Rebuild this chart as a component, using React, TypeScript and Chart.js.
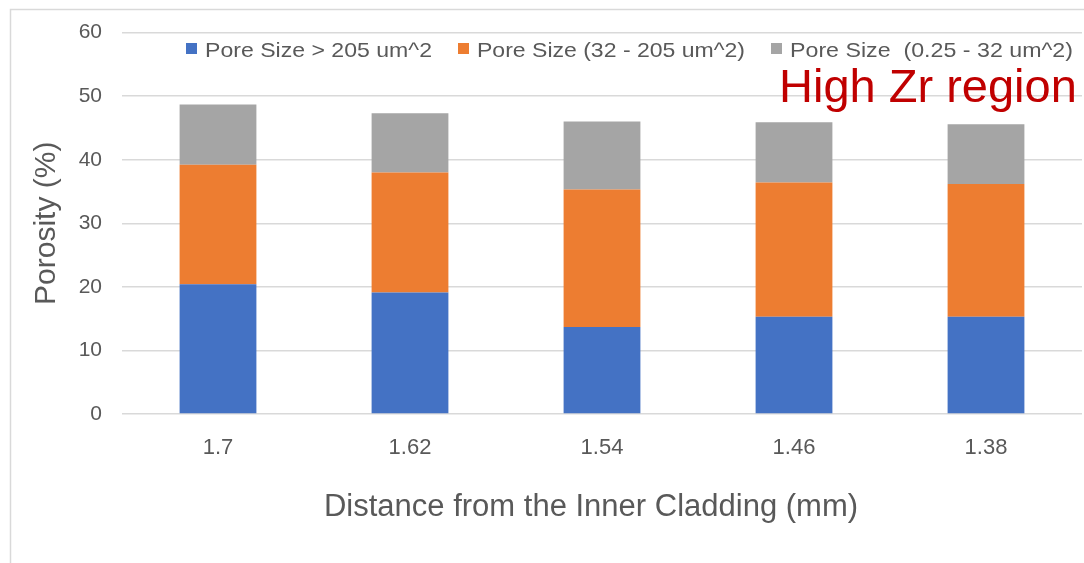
import React, { useEffect, useRef } from "react";
import { Chart, registerables } from "chart.js";

Chart.register(...registerables);

const categories = ["1.7", "1.62", "1.54", "1.46", "1.38"];
const seriesLabels = [
  "Pore Size > 205 um^2",
  "Pore Size (32 - 205 um^2)",
  "Pore Size  (0.25 - 32 um^2)",
];
const largePores = [20.4, 19.1, 13.7, 15.3, 15.3];
const mediumPores = [18.8, 18.9, 21.6, 21.1, 20.9];
const smallPores = [9.5, 9.3, 10.7, 9.5, 9.4];
const seriesColors = ["#4472C4", "#ED7D31", "#A5A5A5"];
const yTicks = [0, 10, 20, 30, 40, 50, 60];
const annotation = "High Zr region";
const xTitle = "Distance from the Inner Cladding (mm)";
const yTitle = "Porosity (%)";

const FONT = "'Liberation Sans', Arial, sans-serif";
const TEXT = "#595959";
const GRID = "#D9D9D9";
const legendX = [186, 458, 771];

const decorPlugin = {
  id: "decor",
  beforeDraw(chart: any) {
    const ctx = chart.ctx;
    ctx.save();
    ctx.strokeStyle = GRID;
    ctx.lineWidth = 1.5;
    ctx.strokeRect(10.5, 9.5, 1200, 700);
    ctx.restore();
  },
  afterDraw(chart: any) {
    const ctx = chart.ctx;
    ctx.save();
    ctx.font = `21px ${FONT}`;
    ctx.textBaseline = "alphabetic";
    chart.data.datasets.forEach((ds: any, i: number) => {
      const x = legendX[i];
      ctx.fillStyle = ds.backgroundColor;
      ctx.fillRect(x, 43, 11, 11);
      ctx.fillStyle = TEXT;
      const w = ctx.measureText(ds.label).width;
      const target = i === 2 ? 1073 - (x + 19) : legendX[i + 1] - 26 - (x + 19);
      ctx.save();
      ctx.translate(x + 19, 57);
      ctx.scale(target / w, 1);
      ctx.fillText(ds.label, 0, 0);
      ctx.restore();
    });
    // x-axis title
    ctx.font = `31px ${FONT}`;
    ctx.fillStyle = TEXT;
    ctx.textAlign = "center";
    ctx.textBaseline = "middle";
    ctx.fillText(xTitle, 591, 507);
    // annotation
    ctx.textAlign = "left";
    ctx.textBaseline = "alphabetic";
    ctx.font = `47px ${FONT}`;
    ctx.fillStyle = "#C00000";
    ctx.fillText(annotation, 779, 102);
    ctx.restore();
  },
};

export default function App() {
  const ref = useRef<HTMLCanvasElement>(null);
  useEffect(() => {
    document.body.style.margin = "0";
    const chart = new Chart(ref.current!, {
      type: "bar",
      data: {
        labels: categories,
        datasets: [largePores, mediumPores, smallPores].map((d, i) => ({
          label: seriesLabels[i],
          data: d,
          backgroundColor: seriesColors[i],
          barPercentage: 0.4,
          categoryPercentage: 1.0,
        })),
      },
      options: {
        responsive: false,
        animation: false,
        devicePixelRatio: 1,
        layout: { padding: { top: 30, right: 2, left: 0, bottom: 0 } },
        plugins: { legend: { display: false }, tooltip: { enabled: false } },
        scales: {
          x: {
            stacked: true,
            grid: { display: false },
            border: { display: false },
            ticks: { color: TEXT, font: { family: FONT, size: 22 }, padding: 13 },
            title: { display: false, text: xTitle },
            afterFit: (s: any) => {
              s.height = 149;
            },
          },
          y: {
            stacked: true,
            min: 0,
            max: 60,
            afterBuildTicks: (s: any) => {
              s.ticks = yTicks.map((v) => ({ value: v }));
            },
            grid: { color: GRID, lineWidth: 1.5, drawTicks: false },
            border: { display: false },
            ticks: { color: TEXT, font: { family: FONT, size: 21 }, padding: 20 },
            title: {
              display: true,
              text: yTitle,
              color: TEXT,
              font: { family: FONT, size: 30 },
              padding: { top: 29, bottom: 0 },
            },
            afterFit: (s: any) => {
              s.width = 122;
            },
          },
        },
      },
      plugins: [decorPlugin],
    });
    return () => chart.destroy();
  }, []);
  return (
    <div style={{ position: "fixed", left: 0, top: 0, width: 1084, height: 563, background: "#fff" }}>
      <canvas ref={ref} width={1084} height={563} />
    </div>
  );
}
